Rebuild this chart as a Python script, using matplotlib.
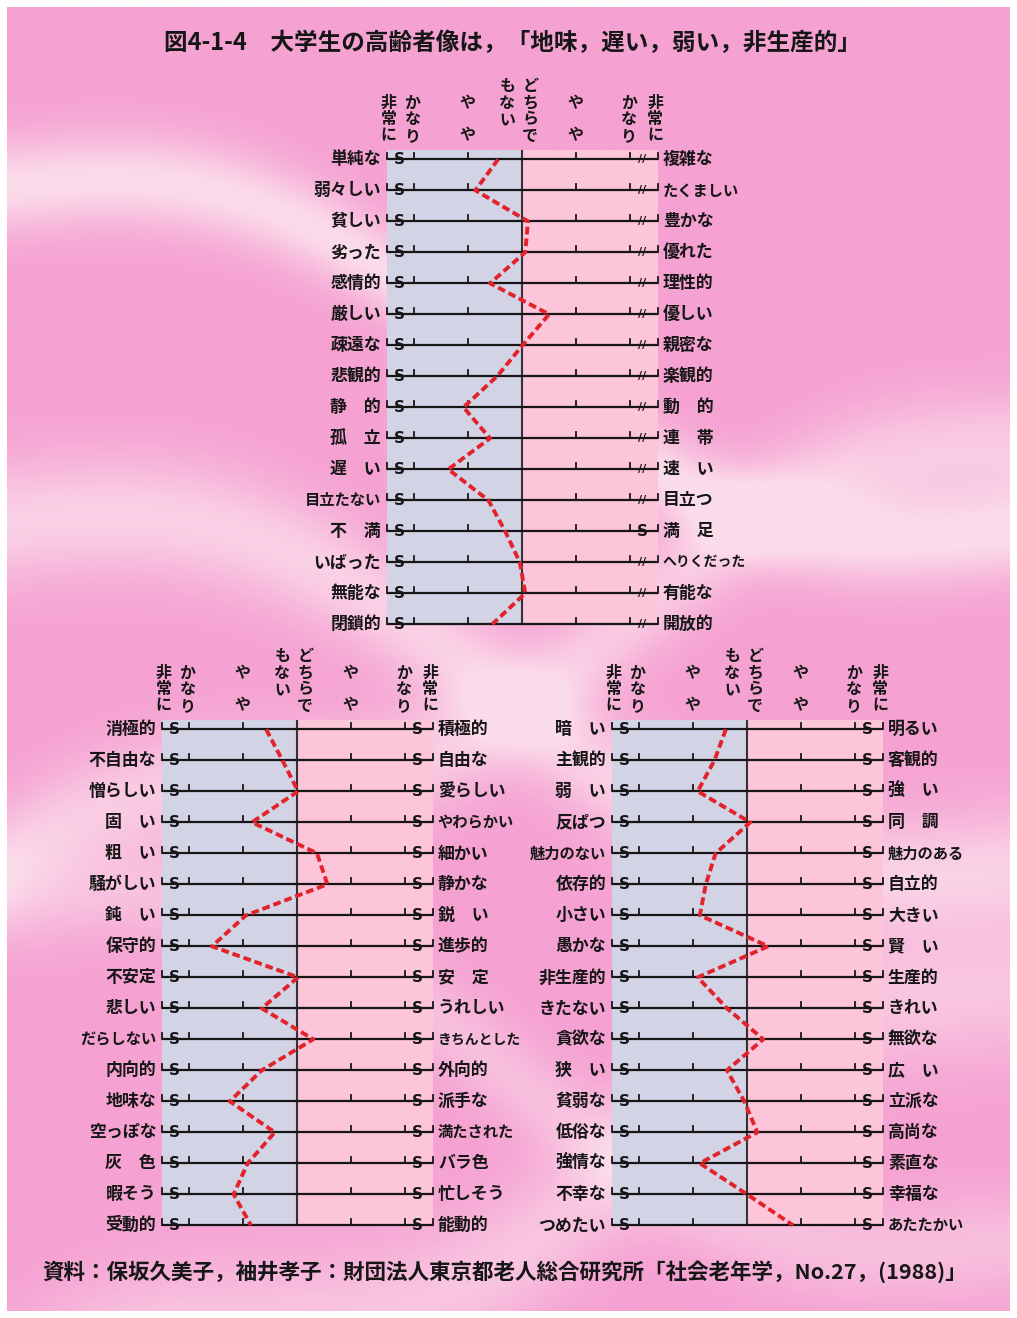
import numpy as np
import matplotlib.pyplot as plt
from matplotlib.colors import LinearSegmentedColormap

plt.rcParams['font.family'] = ['Noto Sans CJK JP', 'DejaVu Sans']

# scale: 0 = どちらでもない, +-1 = やや, +-2 = かなり
top_left = ['単純な', '弱々しい', '貧しい', '劣った', '感情的', '厳しい', '疎遠な', '悲観的',
            '静　的', '孤　立', '遅　い', '目立たない', '不　満', 'いばった', '無能な', '閉鎖的']
top_right = ['複雑な', 'たくましい', '豊かな', '優れた', '理性的', '優しい', '親密な', '楽観的',
             '動　的', '連　帯', '速　い', '目立つ', '満　足', 'へりくだった', '有能な', '開放的']
top_values = [-0.44, -0.86, 0.11, 0.06, -0.59, 0.50, 0.01, -0.46,
              -1.08, -0.59, -1.36, -0.62, -0.31, -0.04, 0.06, -0.55]

bl_left = ['消極的', '不自由な', '憎らしい', '固　い', '粗　い', '騒がしい', '鈍　い', '保守的', '不安定',
           '悲しい', 'だらしない', '内向的', '地味な', '空っぽな', '灰　色', '暇そう', '受動的']
bl_right = ['積極的', '自由な', '愛らしい', 'やわらかい', '細かい', '静かな', '鋭　い', '進歩的', '安　定',
            'うれしい', 'きちんとした', '外向的', '派手な', '満たされた', 'バラ色', '忙しそう', '能動的']
bl_values = [-0.57, -0.27, 0.02, -0.83, 0.37, 0.56, -0.94, -1.57, 0.02,
             -0.65, 0.30, -0.65, -1.24, -0.41, -0.91, -1.17, -0.85]

br_left = ['暗　い', '主観的', '弱　い', '反ぱつ', '魅力のない', '依存的', '小さい', '愚かな', '非生産的',
           'きたない', '貪欲な', '狭　い', '貧弱な', '低俗な', '強情な', '不幸な', 'つめたい']
br_right = ['明るい', '客観的', '強　い', '同　調', '魅力のある', '自立的', '大きい', '賢　い', '生産的',
            'きれい', '無欲な', '広　い', '立派な', '高尚な', '素直な', '幸福な', 'あたたかい']
br_values = [-0.39, -0.60, -0.91, 0.06, -0.58, -0.76, -0.87, 0.39, -0.91,
             -0.37, 0.30, -0.37, -0.05, 0.19, -0.87, 0.0, 0.85]

header_text = ['非常に', 'かなり', 'や　や', 'もない', 'どちらで', 'や　や', 'かなり', '非常に']
header_x = [-2.46, -2.02, -1.0, -0.27, 0.15, 0.98, 1.98, 2.46]
header_start = [1, 1, 1, 0, 0, 1, 1, 1]

title = '図4-1-4　大学生の高齢者像は，「地味，遅い，弱い，非生産的」'
source = '資料：保坂久美子，袖井孝子：財団法人東京都老人総合研究所「社会老年学，No.27，(1988)」'

W, H = 1017, 1318
fig = plt.figure(figsize=(W / 100, H / 100), dpi=100)
fig.patch.set_facecolor('white')

# pink swirled background
bg = fig.add_axes([7 / W, 7 / H, 1 - 14 / W, 1 - 14 / H])
yy, xx = np.mgrid[0:H:3, 0:W:3].astype(float)
t1 = yy - 0.35 * xx + 70 * np.sin(xx / 160.0)
t2 = yy + 0.45 * xx + 50 * np.sin(xx / 120.0 + 1.0)
light = (np.exp(-((t1 - 180) / 45) ** 2) + 0.8 * np.exp(-((t1 - 520) / 60) ** 2)
         + 0.7 * np.exp(-((t2 - 900) / 55) ** 2) + 0.6 * np.exp(-((t2 - 1450) / 70) ** 2)
         + 0.5 * np.exp(-((t1 - 900) / 50) ** 2))
light = np.clip(light, 0, 1)
cmap = LinearSegmentedColormap.from_list('bgpink', ['#f5a2d2', '#fbdcea'])
bg.imshow(light, cmap=cmap, aspect='auto', interpolation='bilinear')
bg.axis('off')

BLUE = '#d3d3e6'
PINK = '#fdc5d9'
RED = '#e3232b'
INK = '#161616'


def label_size(s):
    if len(s) >= 6:
        return 10
    if len(s) == 5:
        return 11
    return 12.2


def draw_panel(px_top, px_center, left, right, values, right_slash):
    n = len(values)
    unit = 54.2
    x0 = px_center - 2.5 * unit
    width = 5 * unit
    row = 31.0
    height = (n - 1 + 0.3) * row
    ax = fig.add_axes([x0 / W, 1 - (px_top + height) / H, width / W, height / H])
    ax.set_xlim(-2.5, 2.5)
    ax.set_ylim(n - 1, -0.3)
    ax.axis('off')
    ax.axvspan(-2.5, 0, color=BLUE, lw=0)
    ax.axvspan(0, 2.5, color=PINK, lw=0)
    ax.axvline(0, color='#333333', lw=1.5)
    for i in range(n):
        ax.plot([-2.5, 2.5], [i, i], color=INK, lw=1.6, clip_on=False, solid_capstyle='butt')
        for tx in [-2.5, -2, -1, 1, 2, 2.5]:
            ax.plot([tx, tx], [i, i - 0.2], color=INK, lw=1.3, clip_on=False)
        ax.text(-2.27, i, 'S', ha='center', va='center', fontsize=11, fontweight='bold',
                family='DejaVu Sans', color=INK)
        if right_slash and i != 12:
            ax.text(2.22, i, '//', ha='center', va='center', fontsize=8, fontweight='bold',
                    family='DejaVu Sans', color=INK)
        else:
            ax.text(2.22, i, 'S', ha='center', va='center', fontsize=11, fontweight='bold',
                    family='DejaVu Sans', color=INK)
        ax.text(-2.6, i, left[i], ha='right', va='center', fontsize=label_size(left[i]),
                fontweight='bold', color=INK, clip_on=False)
        ax.text(2.6, i, right[i], ha='left', va='center', fontsize=label_size(right[i]),
                fontweight='bold', color=INK, clip_on=False)
    ax.plot(values, range(n), color=RED, lw=2.8, ls=(0, (2, 1)), clip_on=False,
            dash_capstyle='butt', zorder=5)
    # vertical header labels
    for txt, hx, start in zip(header_text, header_x, header_start):
        for k, ch in enumerate(txt):
            yk = -2.35 + (start + k) * 0.53
            ax.text(hx, yk, ch, ha='center', va='center', fontsize=11.5, fontweight='bold',
                    color=INK, clip_on=False)
    return ax


draw_panel(150, 522, top_left, top_right, top_values, True)
draw_panel(720, 297, bl_left, bl_right, bl_values, False)
draw_panel(720, 747, br_left, br_right, br_values, False)

fig.text(512 / W, 1 - 43 / H, title, ha='center', va='center', fontsize=17,
         fontweight='bold', color=INK)
fig.text(505 / W, 1 - 1272 / H, source, ha='center', va='center', fontsize=15.5,
         fontweight='bold', color=INK)

fig.savefig('out.png', dpi=100)
